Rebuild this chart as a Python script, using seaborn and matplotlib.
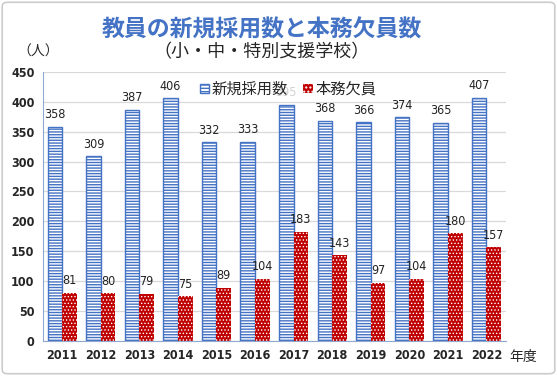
#! /usr/bin/env python3
# 教員の新規採用数と本務欠員数 bar chart
import matplotlib.pyplot as plt
from matplotlib.patches import Patch, FancyBboxPatch
import pandas as pd
import seaborn as sns

# data
years = ['2011', '2012', '2013', '2014', '2015', '2016',
         '2017', '2018', '2019', '2020', '2021', '2022']
new_hires = [358, 309, 387, 406, 332, 333, 395, 368, 366, 374, 365, 407]
vacancies = [81, 80, 79, 75, 89, 104, 183, 143, 97, 104, 180, 157]
series = ['新規採用数', '本務欠員']

# settings
sns.set_style('white')
plt.rcParams['font.family'] = ['Noto Sans CJK JP', 'DejaVu Sans']
plt.rcParams['hatch.linewidth'] = 1.0
BLUE = '#4472C4'
RED = '#C00000'
NARROW = ['DejaVu Sans']

df = pd.DataFrame({'year': years * 2,
                   'value': new_hires + vacancies,
                   'kind': [series[0]] * len(years) + [series[1]] * len(years)})

fig = plt.figure(figsize=(5.57, 3.76), dpi=100)
ax = fig.add_axes([0.077, 0.093, 0.831, 0.716])
sns.barplot(data=df, x='year', y='value', hue='kind', hue_order=series,
            palette=[BLUE, RED], width=0.76, ax=ax, legend=False, zorder=2)

# style bars
for bar in ax.containers[0]:
    bar.set_facecolor('white')
    bar.set_edgecolor(BLUE)
    bar.set_hatch('------')
    bar.set_linewidth(1.0)
for bar in ax.containers[1]:
    bar.set_facecolor(RED)
    bar.set_edgecolor('white')
    bar.set_hatch('.....')
    bar.set_linewidth(0)
    if hasattr(bar, 'set_hatch_linewidth'):
        bar.set_hatch_linewidth(0.6)

for cont in ax.containers:
    ax.bar_label(cont, fontsize=9, padding=4, family=NARROW, fontstretch='condensed',
                 color='#222222')

ax.set_ylim(0, 450)
ax.set_yticks(range(0, 451, 50))
ax.set_xlabel('')
ax.set_ylabel('')
ax.grid(axis='y', color='#d9d9d9', linewidth=0.9, zorder=0)
ax.set_axisbelow(True)
for s in ['top', 'right']:
    ax.spines[s].set_visible(False)
ax.spines['left'].set_color('#8fa8d0')
ax.spines['bottom'].set_color('#8fa8d0')
ax.tick_params(length=0, pad=6)
for lab in ax.get_xticklabels() + ax.get_yticklabels():
    lab.set_family(NARROW)
    lab.set_fontstretch('condensed')
    lab.set_fontweight('bold')
    lab.set_fontsize(9)

handles = [Patch(facecolor='white', edgecolor=BLUE, hatch='-----', label=series[0]),
           Patch(facecolor=RED, edgecolor='white', hatch='....', linewidth=0, label=series[1])]
leg = ax.legend(handles=handles, loc='upper center', bbox_to_anchor=(0.53, 1.0),
                ncol=2, frameon=True, fontsize=11, handlelength=0.6, handleheight=0.6,
                handletextpad=0.2, columnspacing=1.0, borderpad=0.1)
leg.get_frame().set_facecolor('white')
leg.get_frame().set_edgecolor('white')
leg.set_zorder(5)

fig.text(0.47, 0.92, '教員の新規採用数と本務欠員数', ha='center', va='center',
         fontsize=16.5, fontweight='bold', color=BLUE)
fig.text(0.47, 0.862, '（小・中・特別支援学校）', ha='center', va='center', fontsize=13)
fig.text(0.068, 0.862, '（人）', ha='center', va='center', fontsize=10)
fig.text(0.94, 0.05, '年度', ha='center', va='center', fontsize=10)

fig.patches.append(FancyBboxPatch((0.004, 0.006), 0.992, 0.988,
                                  boxstyle='round,pad=0,rounding_size=0.01',
                                  transform=fig.transFigure, facecolor='none',
                                  edgecolor='#cccccc', linewidth=1.2))

fig.savefig('out.png', dpi=100)
